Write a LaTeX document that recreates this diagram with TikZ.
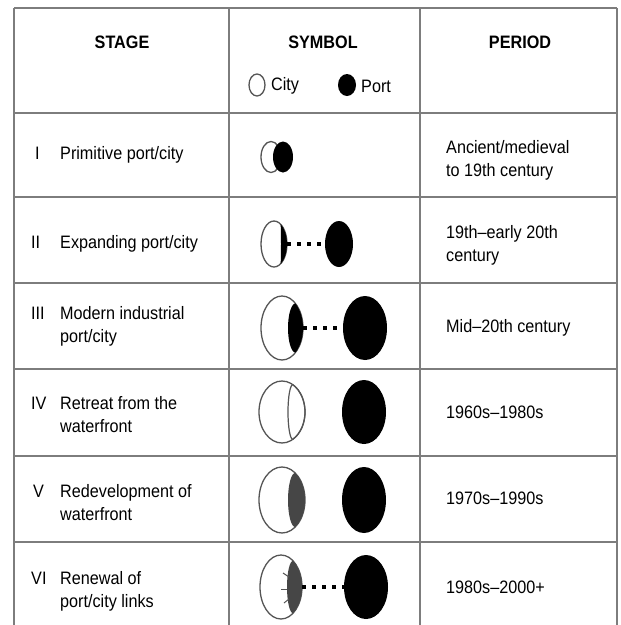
\documentclass[tikz,border=0pt]{standalone}
\usepackage{fontspec}
\setmainfont{Liberation Sans}[FakeStretch=0.9]
\usetikzlibrary{shapes.geometric}
\definecolor{tabgray}{RGB}{125,125,125}
\definecolor{outl}{RGB}{85,85,85}
\definecolor{lensgray}{RGB}{70,70,70}
\newcommand\drawlens[7]{%
  \pgfmathsetmacro\lbx{#1+#3*cos(#6)}%
  \pgfmathsetmacro\lh{#4*sin(#6)}%
  \pgfmathsetmacro\lr{\lbx-#5}%
  \pgfmathsetmacro\lsy{#2+\lh}%
  \path[#7] (\lbx,\lsy) arc[start angle=#6, end angle=-#6, x radius=#3, y radius=#4]
     arc[start angle=270, end angle=90, x radius=\lr, y radius=\lh] -- cycle;%
}
\begin{document}
\begin{tikzpicture}[x=1pt,y=-1pt,
  grid/.style={draw=tabgray, line width=1.6pt},
  txt/.style={font=\fontsize{18}{23}\selectfont, inner sep=0pt, anchor=north west, align=left},
  head/.style={font=\fontsize{18}{23}\selectfont\bfseries, inner sep=0pt},
  sz/.style 2 args={minimum width=#1, minimum height=#2},
  city/.style={ellipse, draw=outl, line width=1.3pt, fill=white, inner sep=0pt, outer sep=0pt},
  port/.style={ellipse, fill=black, inner sep=0pt, outer sep=0pt},
  link/.style={line width=3.5pt, dash pattern=on 3.5pt off 6.5pt, black},
  lensdark/.style={fill=black},
  lensmid/.style={fill=lensgray},
  lensline/.style={draw=outl, line width=1.2pt},
]
\useasboundingbox (0,0) rectangle (621,625);
\fill[white] (0,0) rectangle (621,625);

% grid
\foreach \gx in {14,229,420,617} \draw[grid] (\gx,8) -- (\gx,625);
\foreach \gy in {8,113,197,283,369,456,542} \draw[grid] (14,\gy) -- (617,\gy);

% header
\node[head] (hs) at (122,42) {STAGE};
\node[head] (hy) at (323,42) {SYMBOL};
\node[head] (hp) at (520,42) {PERIOD};
\node[city, sz={16pt}{22pt}] (lc) at (257,85) {};
\node[txt, anchor=west] (lct) at (271,86) {City};
\node[port, sz={18pt}{22pt}] (lp) at (347,85) {};
\node[txt, anchor=west] (lpt) at (361,86) {Port};

% stage column
\node[txt] (n1) at (35,143.5) {\strut I};
\node[txt] (s1) at (60,143.5) {\strut Primitive port/city};
\node[txt] (n2) at (31,232.5) {\strut II};
\node[txt] (s2) at (60,232.5) {\strut Expanding port/city};
\node[txt] (n3) at (31,303.5) {\strut III};
\node[txt] (s3) at (60,303.5) {\strut Modern industrial\\port/city};
\node[txt] (n4) at (31,393.5) {\strut IV};
\node[txt] (s4) at (60,393.5) {\strut Retreat from the\\waterfront};
\node[txt] (n5) at (33,481.5) {\strut V};
\node[txt] (s5) at (60,481.5) {\strut Redevelopment of\\waterfront};
\node[txt] (n6) at (31,568.5) {\strut VI};
\node[txt] (s6) at (60,568.5) {\strut Renewal of\\port/city links};

% period column
\node[txt] (t1) at (446,137.5) {\strut Ancient/medieval\\to 19th century};
\node[txt] (t2) at (446,222.5) {\strut 19th--early 20th\\century};
\node[txt] (t3) at (446,316.5) {\strut Mid--20th century};
\node[txt] (t4) at (446,402.5) {\strut 1960s--1980s};
\node[txt] (t5) at (446,488.5) {\strut 1970s--1990s};
\node[txt] (t6) at (446,577.5) {\strut 1980s--2000+};

% row I
\node[city, sz={20pt}{31pt}] (c1) at (271,157) {};
\node[port, sz={20pt}{31pt}] (p1) at (283,157) {};

% row II
\node[city, sz={26pt}{46pt}] (c2) at (274,244) {};
\drawlens{274}{244}{13}{23}{281}{60}{lensdark}
\node[port, sz={28pt}{46pt}] (p2) at (339,244) {};
\draw[link] (c2.east) -- (p2.west);

% row III
\node[city, sz={42pt}{64pt}] (c3) at (282,328) {};
\drawlens{282}{328}{21}{32}{288}{50}{lensdark}
\node[port, sz={44pt}{64pt}] (p3) at (365,328) {};
\draw[link] (c3.east) -- (p3.west);

% row IV
\node[city, sz={46pt}{62pt}] (c4) at (282,412) {};
\drawlens{282}{412}{23}{31}{288}{62}{lensline}
\node[port, sz={44pt}{64pt}] (p4) at (364,412) {};

% row V
\node[city, sz={46pt}{66pt}] (c5) at (282,500) {};
\drawlens{282}{500}{23}{33}{288}{55}{lensmid}
\node[port, sz={44pt}{66pt}] (p5) at (364,500) {};

% row VI
\node[city, sz={42pt}{64pt}] (c6) at (281,587) {};
\drawlens{281}{587}{21}{32}{287}{55}{lensmid}
\draw[outl, line width=1pt] (283,573) -- (289,577);
\draw[outl, line width=1pt] (281,589) -- (287,589);
\draw[outl, line width=1pt] (284,603) -- (289,599);
\node[port, sz={44pt}{64pt}] (p6) at (366,587) {};
\draw[link] (c6.east) -- (p6.west);
\end{tikzpicture}
\end{document}
